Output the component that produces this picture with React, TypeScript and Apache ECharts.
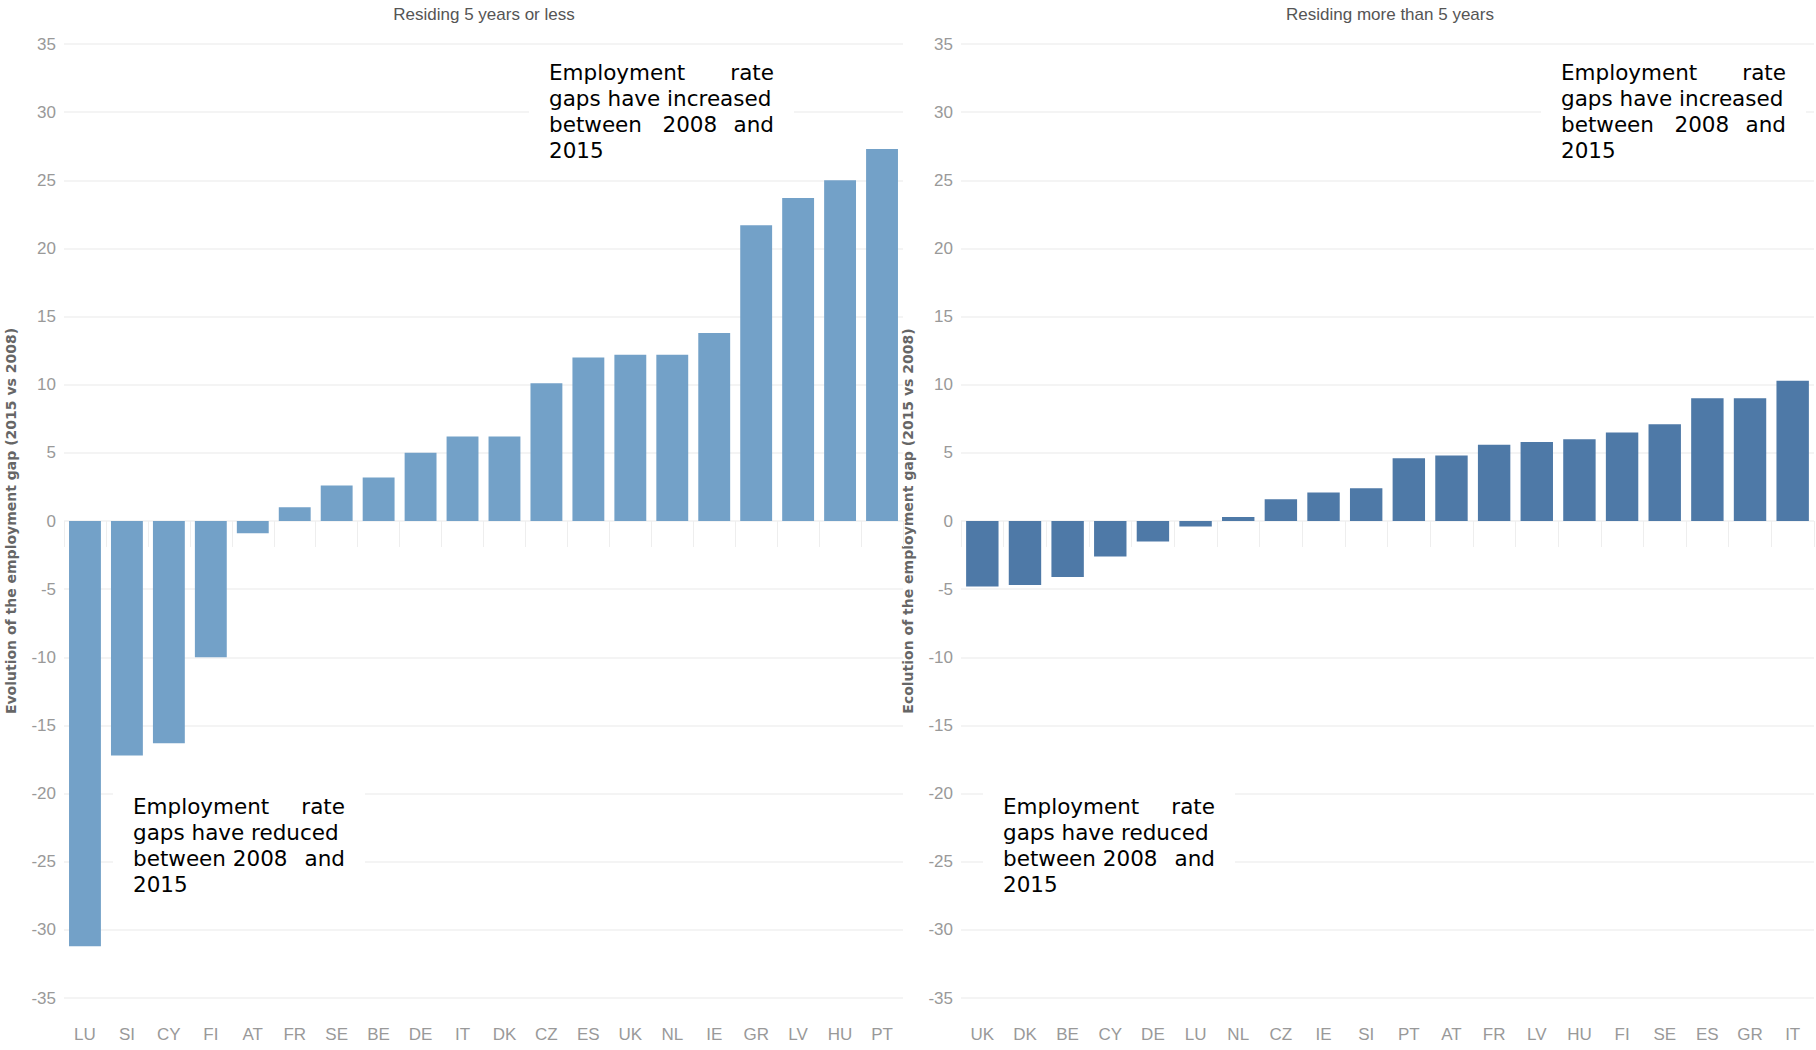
import { useEffect, useRef } from 'react';
import * as echarts from 'echarts';

const leftCats = ['LU', 'SI', 'CY', 'FI', 'AT', 'FR', 'SE', 'BE', 'DE', 'IT', 'DK', 'CZ', 'ES', 'UK', 'NL', 'IE', 'GR', 'LV', 'HU', 'PT'];
const leftVals = [-31.2, -17.2, -16.3, -10, -0.9, 1, 2.6, 3.2, 5, 6.2, 6.2, 10.1, 12, 12.2, 12.2, 13.8, 21.7, 23.7, 25, 27.3];
const rightCats = ['UK', 'DK', 'BE', 'CY', 'DE', 'LU', 'NL', 'CZ', 'IE', 'SI', 'PT', 'AT', 'FR', 'LV', 'HU', 'FI', 'SE', 'ES', 'GR', 'IT'];
const rightVals = [-4.8, -4.7, -4.1, -2.6, -1.5, -0.4, 0.3, 1.6, 2.1, 2.4, 4.6, 4.8, 5.6, 5.8, 6, 6.5, 7.1, 9, 9, 10.3];

const upText = ['Employment|rate', 'gaps have increased', 'between   2008|and', '2015'];
const downText = ['Employment|rate', 'gaps have reduced|', 'between 2008|and', '2015'];

const narrow = '"Liberation Sans Narrow", "Liberation Sans", sans-serif';
const verdana = '"DejaVu Sans", Verdana, sans-serif';

// '|' splits a line into a left-aligned and a right-aligned part
function note(lines: string[], x: number, y: number, w: number, size: number) {
  const font = `${size}px ${verdana}`;
  const kids: any[] = [
    { type: 'rect', z: 100, shape: { x: x - 20, y: y - 12, width: w + 40, height: lines.length * 26 + 20 }, style: { fill: '#fff' } },
  ];
  lines.forEach((l, i) => {
    const parts = l.split('|');
    kids.push({ type: 'text', z: 101, x, y: y + i * 26, style: { text: parts[0], font, fill: '#000' } });
    if (parts[1]) kids.push({ type: 'text', z: 101, x: x + w, y: y + i * 26, style: { text: parts[1], font, fill: '#000', align: 'right' } });
  });
  return { type: 'group', z: 100, children: kids };
}

export default function App() {
  const ref = useRef<HTMLDivElement>(null);
  useEffect(() => {
    if (!ref.current) return;
    const chart = echarts.init(ref.current, null, { renderer: 'svg' });
    const yAx = (gi: number, name: string) => ({
      type: 'value', gridIndex: gi, min: -35, max: 35, interval: 5,
      name, nameLocation: 'middle', nameGap: 46,
      nameTextStyle: { color: '#666', fontSize: 14, fontFamily: verdana, fontWeight: 'bold' },
      axisLine: { show: false }, axisTick: { show: false },
      axisLabel: { color: '#999', fontSize: 17, fontFamily: narrow },
      splitLine: { lineStyle: { color: '#f0f0f0', width: 1.5 } },
    });
    const xAx = (gi: number, data: string[]) => ({
      type: 'category', gridIndex: gi, data, position: 'bottom', offset: 14,
      axisLine: { show: false },
      axisTick: { show: true, length: 26, lineStyle: { color: '#eee' } },
      axisLabel: { color: '#999', fontSize: 17, fontFamily: narrow, margin: 14 },
    });
    chart.setOption({
      animation: false,
      backgroundColor: '#fff',
      grid: [
        { left: 64, right: 1816 - 903, top: 44, bottom: 52 },
        { left: 961, right: 2, top: 44, bottom: 52 },
      ],
      xAxis: [xAx(0, leftCats), xAx(1, rightCats)],
      yAxis: [yAx(0, 'Evolution of the employment gap (2015 vs 2008)'), yAx(1, 'Ecolution of the employment gap (2015 vs 2008)')],
      series: [
        { type: 'bar', data: leftVals, xAxisIndex: 0, yAxisIndex: 0, barCategoryGap: '24%', itemStyle: { color: '#73a1c8' } },
        { type: 'bar', data: rightVals, xAxisIndex: 1, yAxisIndex: 1, barCategoryGap: '24%', itemStyle: { color: '#4e79a7' } },
      ],
      graphic: [
        { type: 'text', x: 484, y: 14, style: { text: 'Residing 5 years or less', font: `17px ${narrow}`, fill: '#555', align: 'center', verticalAlign: 'middle' } },
        { type: 'text', x: 1390, y: 14, style: { text: 'Residing more than 5 years', font: `17px ${narrow}`, fill: '#555', align: 'center', verticalAlign: 'middle' } },
        note(upText, 549, 61, 225, 21.5),
        note(downText, 133, 795, 212, 21.5),
        note(upText, 1561, 61, 225, 21.5),
        note(downText, 1003, 795, 212, 21.5),
      ],
    });
    return () => chart.dispose();
  }, []);
  return <div ref={ref} style={{ position: 'fixed', left: 0, top: 0, width: 1816, height: 1050 }} />;
}
